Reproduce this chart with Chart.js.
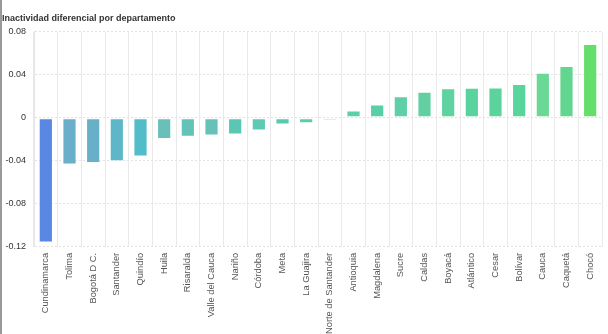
<!DOCTYPE html>
<html>
<head>
<meta charset="utf-8">
<script src="https://cdn.jsdelivr.net/npm/chart.js@4"></script>
<style>
  html, body { margin: 0; padding: 0; background: #fff; overflow: hidden; }
  #wrap { position: relative; width: 608px; height: 334px; overflow: hidden; }
  #edge { position: absolute; left: 0; top: 0; width: 2px; height: 334px; background: #9a9a9a; }
</style>
</head>
<body>
<div id="wrap">
  <canvas id="dept-chart" width="608" height="340"></canvas>
  <div id="edge"></div>
</div>
<script>
var departamentos = [
  "Cundinamarca", "Tolima", "Bogotá D C.", "Santander", "Quindío", "Huila",
  "Risaralda", "Valle del Cauca", "Nariño", "Córdoba", "Meta", "La Guajira",
  "Norte de Santander", "Antioquia", "Magdalena", "Sucre", "Caldas", "Boyacá",
  "Atlántico", "Cesar", "Bolívar", "Cauca", "Caquetá", "Chocó"
];

var inactividad = [
  -0.116, -0.0433, -0.0419, -0.0404, -0.036, -0.0196,
  -0.0175, -0.0165, -0.0156, -0.0119, -0.0063, -0.0051,
  -0.0025, 0.0067, 0.0125, 0.020, 0.0243, 0.0274,
  0.028, 0.0283, 0.0315, 0.042, 0.0482, 0.0686
];

var yTicks = [0.08, 0.04, 0, -0.04, -0.08, -0.12];

var barColors = [
  "#5a86e4", "#6aaec9", "#68b0c8", "#5db7c9", "#52bcc8", "#6ac0b8",
  "#62c3b6", "#66c2b8", "#58c8b5", "#5ecab4", "#55cbb0", "#5ccbae",
  "#66c9a8", "#5ccea8", "#58cfa8", "#5ecfa6", "#62d0a0", "#5ed2a0",
  "#5ad39e", "#5dd39c", "#58d59c", "#6bd896", "#62d68e", "#66de6c"
];

var sans = "'Liberation Sans', Arial, Helvetica";

var ctx = document.getElementById("dept-chart");
new Chart(ctx, {
  type: 'bar',
  data: {
    labels: departamentos,
    datasets: [{
      data: inactividad,
      backgroundColor: barColors,
      borderColor: 'rgba(255,255,255,0.45)',
      borderWidth: 1,
      borderSkipped: false,
      barPercentage: 0.75,
      categoryPercentage: 0.8
    }]
  },
  options: {
    responsive: false,
    animation: false,
    layout: { padding: { left: 2, right: 6, top: 0, bottom: 0 } },
    plugins: {
      legend: { display: false },
      tooltip: { enabled: false },
      title: {
        display: true,
        text: 'Inactividad diferencial por departamento',
        align: 'start',
        color: '#333',
        font: { family: sans, size: 9, weight: 'bold' },
        padding: { top: 13, bottom: 8 }
      }
    },
    scales: {
      x: {
        grid: { color: '#e9e9e9', drawTicks: false, offset: true },
        border: { display: false },
        ticks: {
          color: '#555',
          font: { family: sans, size: 9.3 },
          maxRotation: 90,
          minRotation: 90,
          autoSkip: false,
          padding: 6
        }
      },
      y: {
        min: -0.12,
        max: 0.08,
        afterBuildTicks: function (axis) {
          axis.ticks = yTicks.map(function (v) { return { value: v }; });
        },
        afterFit: function (axis) { axis.width = 32; },
        grid: { color: '#e2e2e2', drawTicks: false, borderDash: [2, 2] },
        border: { display: true, color: '#e6e6e6', dash: [2, 2] },
        ticks: {
          color: '#333',
          font: { family: sans, size: 9 },
          padding: 8,
          callback: function (v) { return String(Math.round(v * 100) / 100); }
        }
      }
    }
  }
});
</script>
</body>
</html>
